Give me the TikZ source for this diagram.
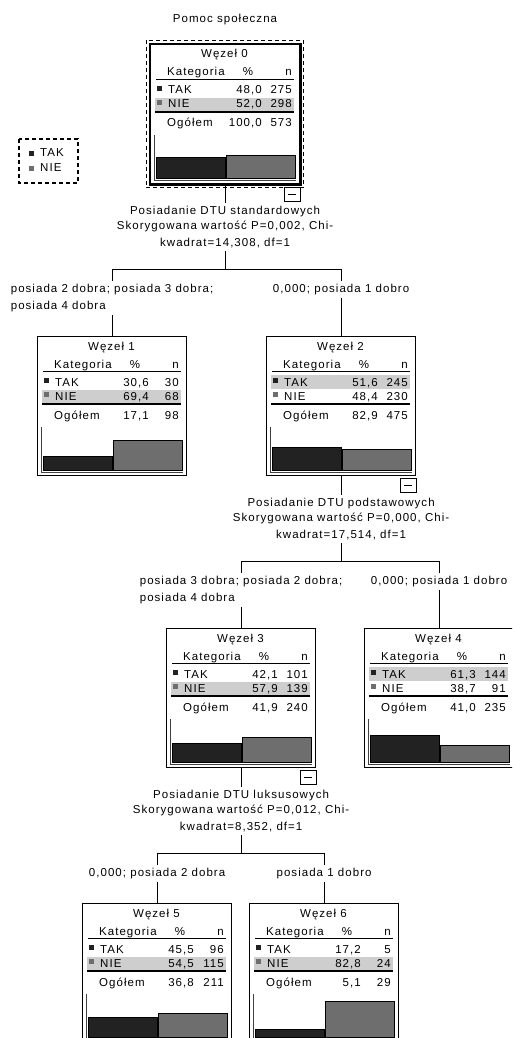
\documentclass[tikz,border=0pt]{standalone}
\usepackage{fontspec}
\setmainfont{Liberation Sans}[LetterSpace=9]
\usetikzlibrary{calc}
\definecolor{takdark}{RGB}{34, 34, 34}
\definecolor{niegray}{RGB}{110, 110, 110}
\definecolor{rowgray}{RGB}{206, 206, 206}

\newcommand{\pct}[1]{\pgfmathprintnumber[fixed,fixed zerofill,precision=1,use comma,assume math mode=true]{#1}}

% #1 name, #2 NW corner, #3 number, #4/#5 TAK, #6/#7 NIE, #8/#9 Ogolem
\newcommand{\wezel}[9]{%
  \node[wbox] (#1) at #2 {};
  \ifdim #4pt>#6pt
    \fill[rowgray] ($(#1.north west)+(5,39)$) rectangle ($(#1.north west)+(144,53)$);
  \else
    \fill[rowgray] ($(#1.north west)+(5,54)$) rectangle ($(#1.north west)+(144,67)$);
  \fi
  \node[cell, anchor=base] (#1-tit) at ($(#1.north west)+(74.5,14)$) {Węzeł #3};
  \node[cell, anchor=base west] (#1-kat) at ($(#1.north west)+(17,32)$) {Kategoria};
  \node[cell, anchor=base] (#1-hp) at ($(#1.north west)+(98,32)$) {\%};
  \node[cell, anchor=base east] (#1-hn) at ($(#1.north west)+(142,32)$) {n};
  \draw[rule] ($(#1.north west)+(6,35.5)$) -- ($(#1.north west)+(144,35.5)$);
  % rows
  \fill[takdark] ($(#1.north west)+(7,42)$) rectangle ++(5,5);
  \node[cell, anchor=base west] (#1-tak) at ($(#1.north west)+(18,50)$) {TAK};
  \node[cell, anchor=base east] (#1-tp) at ($(#1.north west)+(112,50)$) {\pct{#4}};
  \node[cell, anchor=base east] (#1-tn) at ($(#1.north west)+(142,50)$) {#5};
  \fill[niegray] ($(#1.north west)+(7,56)$) rectangle ++(5,5);
  \node[cell, anchor=base west] (#1-nie) at ($(#1.north west)+(18,64)$) {NIE};
  \node[cell, anchor=base east] (#1-np) at ($(#1.north west)+(112,64)$) {\pct{#6}};
  \node[cell, anchor=base east] (#1-nn) at ($(#1.north west)+(142,64)$) {#7};
  \draw[rule] ($(#1.north west)+(5,68)$) -- ($(#1.north west)+(144,68)$);
  \node[cell, anchor=base west] (#1-og) at ($(#1.north west)+(17,83)$) {Ogółem};
  \node[cell, anchor=base east] (#1-op) at ($(#1.north west)+(112,83)$) {\pct{#8}};
  \node[cell, anchor=base east] (#1-on) at ($(#1.north west)+(142,83)$) {#9};
  % bars
  \draw[axis] ($(#1.north west)+(4,91)$) |- ($(#1.north west)+(146,136)$);
  \draw[barline, fill=takdark] ($(#1.north west)+(6,134)$) rectangle ($(#1.north west)+(75,{134-0.43*#4})$);
  \draw[barline, fill=niegray] ($(#1.north west)+(76,134)$) rectangle ($(#1.north west)+(145,{134-0.43*#6})$);
}

\begin{document}
\begin{tikzpicture}[x=1pt, y=-1pt, font=\fontsize{11.5}{15}\selectfont,
    wbox/.style={draw, line width=1.2pt, anchor=north west, minimum width=149pt, minimum height=139pt, inner sep=0pt},
    cell/.style={inner sep=0pt},
    rule/.style={line width=1.1pt},
    axis/.style={line width=1pt, black!75},
    barline/.style={line width=0.9pt},
    conn/.style={line width=1.2pt},
    splitlbl/.style={align=center, inner sep=3pt, anchor=north},
    catlbl/.style={align=left, inner sep=3pt, anchor=north},
    minusbox/.style={draw, fill=white, line width=1pt, minimum width=16pt, minimum height=14pt, inner sep=0pt}]
    \useasboundingbox (0,0) rectangle (512,1038);
    \clip (0,0) rectangle (512,1038);

    % Title
    \node (title) at (225,20) {Pomoc społeczna};

    % Legend
    \draw[line width=1.1pt, dash pattern=on 4pt off 3pt] (19,139) rectangle (78,183);
    \fill[takdark] (29,151) rectangle ++(5,5);
    \node[cell, anchor=west] (lgtak) at (40,153) {TAK};
    \fill[niegray] (29,166) rectangle ++(5,5);
    \node[cell, anchor=west] (lgnie) at (40,168) {NIE};

    % Tree nodes
    \wezel{w0}{(150,44)}{0}{48.0}{275}{52.0}{298}{100.0}{573}
    \draw[line width=2.6pt] (w0.north west) rectangle (w0.south east);
    \draw[line width=1.1pt, dash pattern=on 4pt off 3pt] ($(w0.north west)+(-3.5,-3.5)$) rectangle ($(w0.south east)+(3.5,3.5)$);
    \wezel{w1}{(37,336)}{1}{30.6}{30}{69.4}{68}{17.1}{98}
    \wezel{w2}{(266,336)}{2}{51.6}{245}{48.4}{230}{82.9}{475}
    \wezel{w3}{(166,628)}{3}{42.1}{101}{57.9}{139}{41.9}{240}
    \wezel{w4}{(364,628)}{4}{61.3}{144}{38.7}{91}{41.0}{235}
    \wezel{w5}{(82,903)}{5}{45.5}{96}{54.5}{115}{36.8}{211}
    \wezel{w6}{(249,903)}{6}{17.2}{5}{82.8}{24}{5.1}{29}

    % Collapse boxes
    \node[minusbox] (m0) at ($(w0.south east)+(-8,10)$) {\rule{8pt}{1.2pt}};
    \node[minusbox] (m2) at ($(w2.south east)+(-8,9)$) {\rule{8pt}{1.2pt}};
    \node[minusbox] (m3) at ($(w3.south east)+(-8,9)$) {\rule{8pt}{1.2pt}};

    % Split 0
    \node[splitlbl] (s0) at ($(w0.south)+(0,19)$) {Posiadanie DTU standardowych\\Skorygowana wartość P=0,002, Chi-\\[2pt]kwadrat=14,308, df=1};
    \coordinate (h0) at ($(w0.south)+(0,85)$);
    \node[catlbl] (c1) at ($(h0 -| w1.north)+(0,12)$) {posiada 2 dobra; posiada 3 dobra;\\[2pt]posiada 4 dobra};
    \node[catlbl] (c2) at ($(h0 -| w2.north)+(0,12)$) {0,000; posiada 1 dobro};
    \draw[conn] (w0.south) -- (s0.north);
    \draw[conn] (s0.south) -- (h0);
    \draw[conn] (h0 -| w1.north) -- (h0 -| w2.north);
    \draw[conn] (h0 -| w1.north) -- (c1.north);
    \draw[conn] (h0 -| w2.north) -- (c2.north);
    \draw[conn] (c1.south) -- (w1.north);
    \draw[conn] (c2.south) -- (w2.north);

    % Split 2
    \node[splitlbl] (s2) at ($(w2.south)+(0,19)$) {Posiadanie DTU podstawowych\\Skorygowana wartość P=0,000, Chi-\\[2pt]kwadrat=17,514, df=1};
    \coordinate (h2) at ($(w2.south)+(0,85)$);
    \node[catlbl] (c3) at ($(h2 -| w3.north)+(0,12)$) {posiada 3 dobra; posiada 2 dobra;\\[2pt]posiada 4 dobra};
    \node[catlbl] (c4) at ($(h2 -| w4.north)+(0,12)$) {0,000; posiada 1 dobro};
    \draw[conn] (w2.south) -- (s2.north);
    \draw[conn] (s2.south) -- (h2);
    \draw[conn] (h2 -| w3.north) -- (h2 -| w4.north);
    \draw[conn] (h2 -| w3.north) -- (c3.north);
    \draw[conn] (h2 -| w4.north) -- (c4.north);
    \draw[conn] (c3.south) -- (w3.north);
    \draw[conn] (c4.south) -- (w4.north);

    % Split 3
    \node[splitlbl] (s3) at ($(w3.south)+(0,19)$) {Posiadanie DTU luksusowych\\Skorygowana wartość P=0,012, Chi-\\[2pt]kwadrat=8,352, df=1};
    \coordinate (h3) at ($(w3.south)+(0,85)$);
    \node[catlbl] (c5) at ($(h3 -| w5.north)+(0,12)$) {0,000; posiada 2 dobra};
    \node[catlbl] (c6) at ($(h3 -| w6.north)+(0,12)$) {posiada 1 dobro};
    \draw[conn] (w3.south) -- (s3.north);
    \draw[conn] (s3.south) -- (h3);
    \draw[conn] (h3 -| w5.north) -- (h3 -| w6.north);
    \draw[conn] (h3 -| w5.north) -- (c5.north);
    \draw[conn] (h3 -| w6.north) -- (c6.north);
    \draw[conn] (c5.south) -- (w5.north);
    \draw[conn] (c6.south) -- (w6.north);
\end{tikzpicture}
\end{document}
